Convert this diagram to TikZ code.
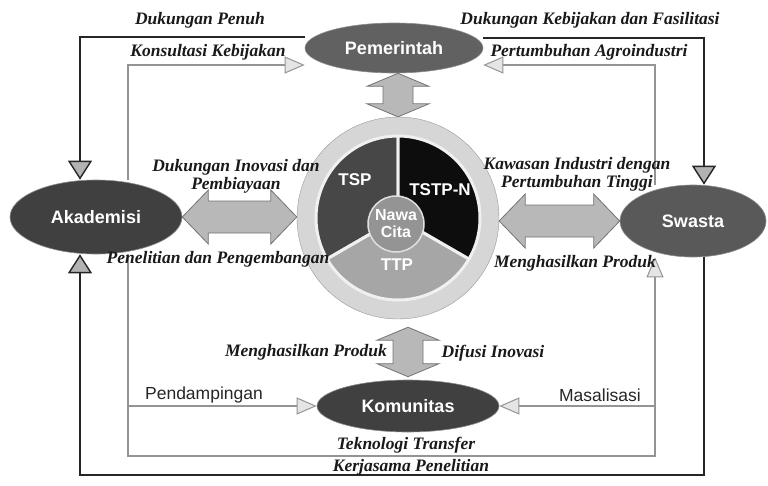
\documentclass[tikz,border=0pt]{standalone}
\usepackage{fontspec}
\setmainfont{Liberation Serif}
\newfontfamily\arialfont{Liberation Sans}
\usetikzlibrary{arrows.meta,calc,positioning,shapes.geometric}

\tikzset{
  actor/.style={ellipse, inner sep=0pt, fill=black!75, draw=black!45, line width=0.6pt,
    text=white, font=\arialfont\bfseries\fontsize{18}{20}\selectfont},
  seglbl/.style={text=white, font=\arialfont\bfseries\fontsize{17}{19}\selectfont},
  hub/.style={circle, minimum size=56pt, inner sep=0pt, fill=black!42, draw=black!12,
    line width=1.5pt, text=white, align=center,
    font=\arialfont\bfseries\fontsize{16}{17}\selectfont},
  sector/.style={draw=black!6, line width=3pt, line join=round},
  lbl/.style={text=black!90, font=\bfseries\itshape\fontsize{17.5}{18}\selectfont},
  plain/.style={text=black!85, font=\arialfont\fontsize{17.5}{19}\selectfont},
  policy/.style={draw=black!85, line width=2.6pt,
    -{Triangle[width=24pt,length=19pt,fill=black!30,line width=1.4pt]}},
  feed/.style={draw=black!42, line width=1.3pt,
    -{Triangle[width=17pt,length=20pt,fill=black!10,line width=1pt]}},
  fat/.style n args={3}{fill=black!28, draw=black!55, line width=0.8pt,
    to path={let \p1=(\tikztostart), \p2=(\tikztotarget),
      \n1={atan2(\y2-\y1,\x2-\x1)}, \n2={veclen(\x2-\x1,\y2-\y1)} in
      ([shift={(\p1)},rotate=\n1]0,0)
      -- ([shift={(\p1)},rotate=\n1]#1,#2) -- ([shift={(\p1)},rotate=\n1]#1,#3)
      -- ([shift={(\p1)},rotate=\n1]\n2-#1,#3) -- ([shift={(\p1)},rotate=\n1]\n2-#1,#2)
      -- ([shift={(\p1)},rotate=\n1]\n2,0)
      -- ([shift={(\p1)},rotate=\n1]\n2-#1,-#2) -- ([shift={(\p1)},rotate=\n1]\n2-#1,-#3)
      -- ([shift={(\p1)},rotate=\n1]#1,-#3) -- ([shift={(\p1)},rotate=\n1]#1,-#2) -- cycle}}
}

\begin{document}
\begin{tikzpicture}[x=1pt, y=-1pt]
\useasboundingbox (0,0) rectangle (768,485);

% wheel in the middle
\node[circle, minimum size=202pt, inner sep=0pt, fill=black!16, draw=black!40] (ring) at (398,218) {};
\path[sector, fill=black!72] (ring.center) -- ++(90:82pt) arc[start angle=90, end angle=210, radius=82pt] -- cycle;
\path[sector, fill=black!35] (ring.center) -- ++(210:82pt) arc[start angle=210, end angle=330, radius=82pt] -- cycle;
\path[sector, fill=black!95] (ring.center) -- ++(-30:82pt) arc[start angle=-30, end angle=90, radius=82pt] -- cycle;
\node[hub] (nawa) at (396,224) {Nawa\\Cita};
\node[seglbl] (tsp) at (355,180) {TSP};
\node[seglbl] (tstpn) at (440,190) {TSTP-N};
\node[seglbl] (ttp) at (397,265) {TTP};

% actors
\node[actor, minimum width=178pt, minimum height=50pt, fill=black!62] (pem) at (394,48) {Pemerintah};
\node[actor, minimum width=172pt, minimum height=74pt] (akad) at (96,217) {Akademisi};
\node[actor, minimum width=146pt, minimum height=72pt, fill=black!65] (swa) at (693,221) {Swasta};
\node[actor, minimum width=182pt, minimum height=52pt] (kom) at (408,406) {Komunitas};

% block arrows
\draw[fat={26}{27}{16}] (akad.east) to (ring.west |- akad.east);
\draw[fat={26}{27}{16}] (ring.east |- swa.west) to (swa.west);
\draw[fat={13}{31}{15}] (ring.north |- pem.south) to (ring.north);
\draw[fat={13}{31}{15}] ([yshift=-8pt]kom.north |- ring.south) to ([yshift=3pt]kom.north);

% corners of the loops
\coordinate (outTL) at (80,37);
\coordinate (outTR) at (704,38);
\coordinate (outBL) at (80,475);
\coordinate (outBR) at (704,475);
\coordinate (gTL) at (128,65);
\coordinate (gTR) at (655,65);
\coordinate (gBL) at (128,456);
\coordinate (gBR) at (655,456);

% outer loop
\draw[policy] (pem.west |- outTL) -- (outTL) -- (outTL |- akad.north);
\draw[policy] (pem.east |- outTR) -- (outTR) -- (outTR |- swa.north);
\draw[policy] (outBR |- swa.south) -- (outBR) -- (outBL) -- (outBL |- akad.south);

% inner loop
\draw[feed] (gTL |- akad.north) -- (gTL) -- (gTL -| pem.west);
\draw[feed] (gTR |- swa.north) -- (gTR) -- (gTR -| pem.east);
\draw[feed] (gBL |- akad.south) -- (gBL) -- (gBR) -- (gBR |- swa.south);
\draw[feed] (gBL |- kom.west) -- (kom.west);
\draw[feed] (gBR |- kom.east) -- (kom.east);

% labels
\node[lbl] (dpenuh) at (200,20) {Dukungan Penuh};
\node[lbl] (dkebijakan) at (590,20) {Dukungan Kebijakan dan Fasilitasi};
\node[lbl] (konsultasi) at (208,52) {Konsultasi Kebijakan};
\node[lbl] (agro) at (589,52) {Pertumbuhan Agroindustri};
\node[lbl, align=center] (inovasi) at (236,176) {Dukungan Inovasi dan\\Pembiayaan};
\node[lbl] (litbang) at (218,259) {Penelitian dan Pengembangan};
\node[lbl, align=center] (kawasan) at (577,174) {Kawasan Industri dengan\\Pertumbuhan Tinggi};
\node[lbl] (produkswa) at (575,263) {Menghasilkan Produk};
\node[lbl] (produkkom) at (306,352) {Menghasilkan Produk};
\node[lbl] (difusi) at (493,353) {Difusi Inovasi};
\node[plain] (damping) at (204,395) {Pendampingan};
\node[plain] (masal) at (600,395) {Masalisasi};
\node[lbl] (tektrans) at (406,445) {Teknologi Transfer};
\node[lbl] (kerjasama) at (411,467) {Kerjasama Penelitian};
\end{tikzpicture}
\end{document}
